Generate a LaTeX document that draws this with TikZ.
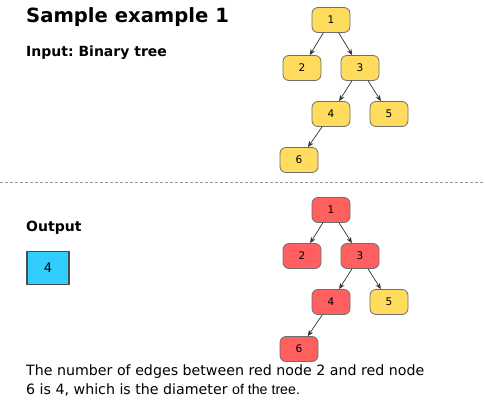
\documentclass[tikz,border=0pt]{standalone}
\usepackage{fontspec}
\setmainfont{DejaVu Sans}
\newfontfamily\arialfont{Liberation Sans}
\usetikzlibrary{arrows.meta}
\frenchspacing
\definecolor{nodeyellow}{HTML}{FFDB5E}
\definecolor{nodered}{HTML}{FF5F5F}
\definecolor{nodeborder}{HTML}{6F6F6F}
\definecolor{outcyan}{HTML}{33CCFF}
\tikzset{
  treenode/.style={draw=nodeborder, line width=0.8pt, rounded corners=6pt,
    minimum width=38pt, minimum height=25pt, inner sep=0pt,
    font=\fontsize{10.5}{12}\selectfont},
  yel/.style={treenode, fill=nodeyellow},
  red/.style={treenode, fill=nodered},
  edge/.style={draw=black!80, line width=0.7pt, -{Stealth[length=6pt,width=5pt]}},
  label/.style={anchor=base west, inner sep=0pt},
}
\begin{document}
\begin{tikzpicture}[x=1pt,y=-1pt]
\path[use as bounding box, fill=white] (0,0) rectangle (485,407);
% headings
\node[label, font=\bfseries\fontsize{19.6}{24}\selectfont] (title) at (26,22) {Sample example 1};
\node[label, font=\bfseries\fontsize{14}{16}\selectfont] (input) at (26,56) {Input: Binary tree};
% top tree
\node[yel] (a1) at (331,20) {1};
\node[yel] (a2) at (302,68) {2};
\node[yel] (a3) at (360,68) {3};
\node[yel] (a4) at (331,114) {4};
\node[yel] (a5) at (389,114) {5};
\node[yel] (a6) at (299,160) {6};
\draw[edge] (a1) -- (a2);
\draw[edge] (a1) -- (a3);
\draw[edge] (a3) -- (a4);
\draw[edge] (a3) -- (a5);
\draw[edge] (a4) -- (a6);
% separator
\coordinate (sepL) at (0,182.5);
\coordinate (sepR) at (485,182.5);
\draw[black!40, line width=1pt, dash pattern=on 3pt off 2pt] (sepL) -- (sepR);
% output
\node[label, font=\bfseries\fontsize{14}{16}\selectfont] (output) at (26,231) {Output};
\node[draw=black!70, line width=1.2pt, fill=outcyan, minimum width=42pt, minimum height=33pt,
  inner sep=0pt, font=\fontsize{13}{15}\selectfont] (res) at (48,268) {4};
% bottom tree
\node[red] (b1) at (331,210) {1};
\node[red] (b2) at (302,256) {2};
\node[red] (b3) at (360,256) {3};
\node[red] (b4) at (331,302) {4};
\node[yel] (b5) at (389,302) {5};
\node[red] (b6) at (299,349) {6};
\draw[edge] (b1) -- (b2);
\draw[edge] (b1) -- (b3);
\draw[edge] (b3) -- (b4);
\draw[edge] (b3) -- (b5);
\draw[edge] (b4) -- (b6);
% explanation
\node[label, font=\fontsize{14.2}{16}\selectfont] (l1) at (26,375.5) {The number of edges between red node 2 and red node};
\node[label, font=\fontsize{14.2}{16}\selectfont] (l2) at (26,394.5) {6 is 4, which is the diameter {\arialfont of the tree.}};
\end{tikzpicture}
\end{document}
